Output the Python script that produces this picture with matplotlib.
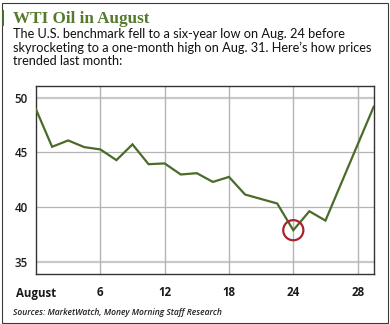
import matplotlib
matplotlib.use("Agg")
import matplotlib.pyplot as plt
from matplotlib.patches import Rectangle

# Data (trading days, Jul 31 .. Aug 31)
day_index = list(range(22))
prices = [48.94, 45.52, 46.10, 45.49, 45.28, 44.30, 45.74, 43.93, 44.00, 42.99,
          43.11, 42.31, 42.77, 41.16, 40.75, 40.34, 37.90, 39.63, 38.78, 42.25,
          45.72, 49.18]
xtick_pos = [0, 4, 8, 12, 16, 20]
xtick_labels = ["August", "6", "12", "18", "24", "28"]
ytick_vals = [35, 40, 45, 50]
low_index = 16

title = "WTI Oil in August"
subtitle = ("The U.S. benchmark fell to a six-year low on Aug. 24 before\n"
            "skyrocketing to a one-month high on Aug. 31. Here\u2019s how prices\n"
            "trended last month:")
source = "Sources: MarketWatch, Money Morning Staff Research"

W, H = 390, 324
fig = plt.figure(figsize=(W / 100, H / 100), dpi=100)
fig.patch.set_facecolor("white")

# outer frame
fig.patches.append(Rectangle((1.5 / W, 1.5 / H), (W - 4) / W, (H - 4) / H,
                             transform=fig.transFigure, fill=False,
                             edgecolor="#3a3a3a", lw=0.8))
# green accent bar
fig.patches.append(Rectangle((1.5 / W, (H - 26) / H), 2.5 / W, 16 / H,
                             transform=fig.transFigure, facecolor="#4a6b2a",
                             edgecolor="none"))

fig.text(13 / W, (H - 23) / H, title, family="Liberation Serif",
         weight="bold", fontsize=12.3, color="#557a2e", va="baseline")
fig.text(13 / W, (H - 27.5) / H, subtitle, family="Lato",
         fontsize=9.2, color="#111111", va="top", linespacing=1.17)
fig.text(13 / W, 9 / H, source, family="Open Sans", style="italic",
         weight="semibold", fontsize=6.1, color="#222222", va="baseline")

ax = fig.add_axes([36 / W, (H - 274) / H, (373.7 - 36) / W, (274 - 85.7) / H])
ax.set_xlim(0, 21)
ax.set_ylim(33.9, 51.1)

for v in ytick_vals:
    if v in (35, 50):
        ax.axhline(v, color="#c8c8c8", lw=1.6, zorder=1)
    else:
        ax.axhline(v, color="#b4b4b4", lw=0.9, zorder=1)
for p in xtick_pos[1:]:
    ax.axvline(p, color="#b4b4b4", lw=1.0, zorder=1)

ax.plot(day_index, prices, color="#4b6b2a", lw=1.6, zorder=3,
        solid_joinstyle="miter")
ax.scatter([day_index[low_index]], [prices[low_index]], s=210,
           facecolors="none", edgecolors="#a8232a", linewidths=1.6, zorder=4)

ax.set_xticks(xtick_pos)
ax.set_xticklabels(xtick_labels)
ax.set_yticks(ytick_vals)
ax.tick_params(length=0)
ax.tick_params(axis="x", pad=9)
ax.tick_params(axis="y", pad=6)
for lab in ax.get_xticklabels() + ax.get_yticklabels():
    lab.set_family("Open Sans")
    lab.set_weight("semibold")
    lab.set_fontsize(8.3)
    lab.set_color("#1a1a1a")
for lab in ax.get_xticklabels():
    lab.set_weight("bold")
for s in ax.spines.values():
    s.set_color("#333333")
    s.set_linewidth(1.0)

fig.savefig("out.png", dpi=100)
